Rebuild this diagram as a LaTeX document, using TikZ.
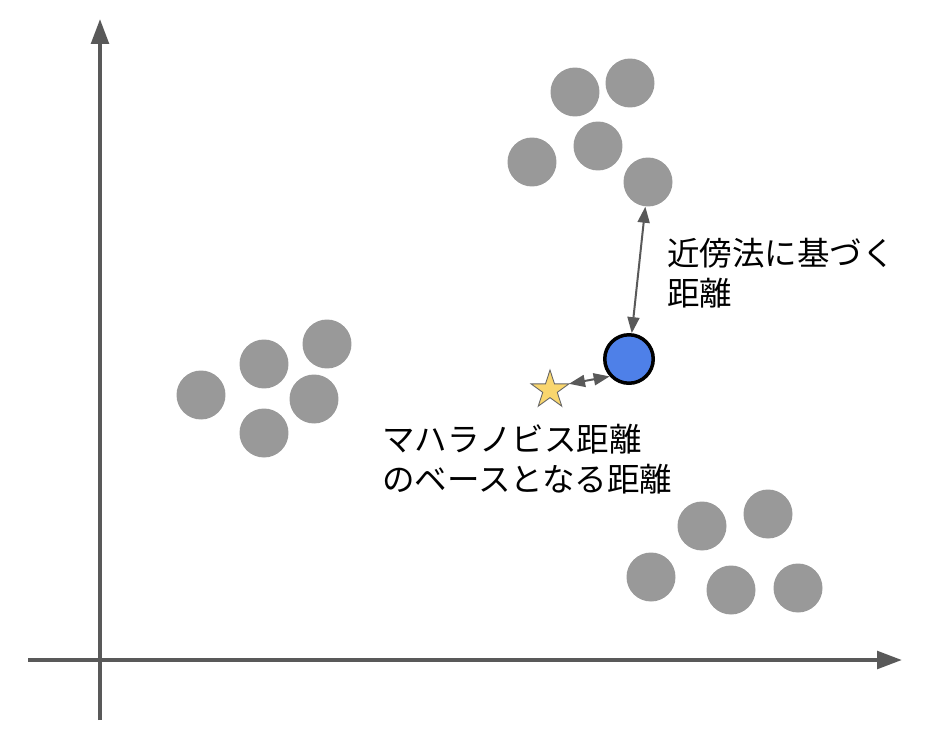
\documentclass[tikz,border=0pt]{standalone}
\usepackage{fontspec}
\setmainfont{Noto Sans CJK JP}
\usepackage{xcolor}
\usetikzlibrary{positioning, arrows.meta, shapes.geometric}

\definecolor{axisgray}{HTML}{595959}
\definecolor{dotgray}{HTML}{999999}
\definecolor{queryblue}{HTML}{4E80E8}
\definecolor{staryellow}{HTML}{F9D66E}

\begin{document}
\begin{tikzpicture}[
  x=0.02cm, y=-0.02cm,
  every node/.style={font=\fontsize{18.5}{22.8}\selectfont},
  dot/.style={circle, fill=dotgray, minimum size=0.98cm, inner sep=0pt},
  query/.style={circle, fill=queryblue, draw=black, line width=0.07cm,
                minimum size=0.97cm, inner sep=0pt},
  center/.style={star, star points=5, star point ratio=2.618, fill=staryellow,
                 draw=black!60, line width=0.5pt, minimum size=0.8cm,
                 inner sep=0pt, outer sep=0pt},
  note/.style={anchor=west, align=left, inner sep=0pt},
  axis/.style={-{Triangle[length=0.5cm, width=0.35cm]}, axisgray,
               line width=0.08cm},
  dist/.style={{Triangle[length=0.32cm, width=0.24cm]}-{Triangle[length=0.32cm, width=0.24cm]},
               axisgray, line width=0.04cm}
]
\useasboundingbox (0,0) rectangle (944,744);
% ── axes ───────────────────────────────────────
\coordinate (ybot) at (100,720);
\coordinate (ytop) at (100,19);
\coordinate (xleft) at (28,660);
\coordinate (xright) at (902,660);
\draw[axis] (ybot) -- (ytop);
\draw[axis] (xleft) -- (xright);
% ── upper cluster ──────────────────────────────
\node[dot] (t1) at (575,92) {};
\node[dot] (t2) at (630,83) {};
\node[dot] (t3) at (598,146) {};
\node[dot] (t4) at (532,162) {};
\node[dot] (t5) at (648,182) {};
% ── left cluster ───────────────────────────────
\node[dot] (l1) at (201,395) {};
\node[dot] (l2) at (264,364) {};
\node[dot] (l3) at (327,344) {};
\node[dot] (l4) at (314,399) {};
\node[dot] (l5) at (264,433) {};
% ── lower right cluster ────────────────────────
\node[dot] (b1) at (702,526) {};
\node[dot] (b2) at (768,514) {};
\node[dot] (b3) at (651,577) {};
\node[dot] (b4) at (731,590) {};
\node[dot] (b5) at (798,588) {};
% ── query point and centre ─────────────────────
\node[query] (q) at (629,359) {};
\node[center] (c) at (550,390) {};
\draw[dist] (q) -- (t5);
\draw[dist] (c.18) -- (q.222);
% ── labels ─────────────────────────────────────
\node[note] (knn) at (667,273) {近傍法に基づく\\距離};
\node[note] (maha) at (382,459) {マハラノビス距離\\のベースとなる距離};
\end{tikzpicture}
\end{document}
